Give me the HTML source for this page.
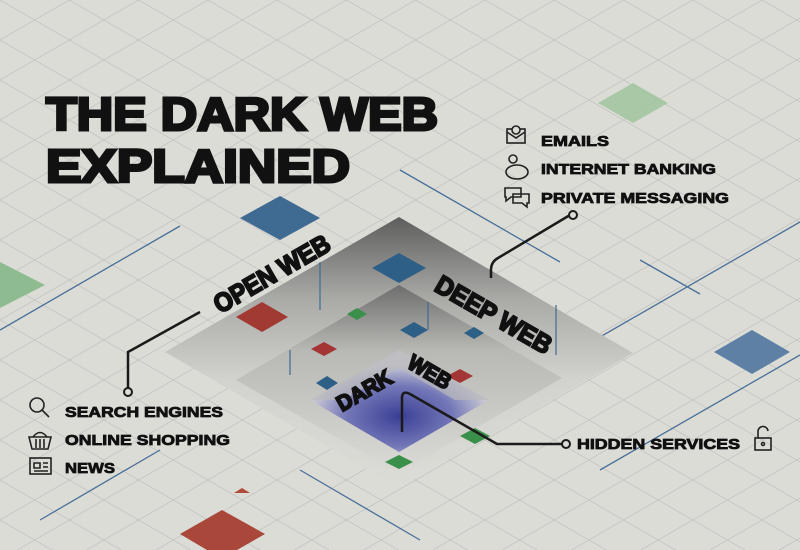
<!DOCTYPE html>
<html><head><meta charset="utf-8"><style>
html,body{margin:0;padding:0;background:#dcdcd7;width:800px;height:550px;overflow:hidden;}
svg{display:block;overflow:hidden;}
</style></head><body>
<svg width="800" height="550" viewBox="0 0 800 550" xmlns="http://www.w3.org/2000/svg" font-family="Liberation Sans, sans-serif">
<defs>
<pattern id="grid" width="69.282" height="40" patternUnits="userSpaceOnUse" x="0" y="0">
<path d="M-1 -0.577 L70.282 40.577 M-1 40.577 L70.282 -0.577" stroke="#bdbebd" stroke-width="0.7" fill="none"/>
</pattern>
<linearGradient id="lv1" x1="0" y1="0" x2="0" y2="1">
<stop offset="0" stop-color="#5e5e5e"/><stop offset="0.3" stop-color="#a9a9a6"/><stop offset="0.6" stop-color="#d2d2ce"/><stop offset="1" stop-color="#dcdcd7"/></linearGradient>
<linearGradient id="lv2" x1="0" y1="0" x2="0" y2="1">
<stop offset="0" stop-color="#6e6e6e"/><stop offset="0.35" stop-color="#b8b8b4"/><stop offset="1" stop-color="#dadad6"/></linearGradient>
<radialGradient id="dk" cx="0.5" cy="0.65" r="0.5">
<stop offset="0" stop-color="#3b3f95"/><stop offset="0.6" stop-color="#7478b8"/><stop offset="1" stop-color="#c8c8d4"/></radialGradient>
</defs>
<rect width="800" height="550" fill="#dcdcd7"/>
<rect width="800" height="550" fill="url(#grid)"/>
<g stroke="#4a6f98" stroke-width="1.3" fill="none">
<path d="M0 330 L180 226"/><path d="M400 170 L560 262"/><path d="M560 360 L800 222"/><path d="M600 470 L800 355"/><path d="M40 520 L160 450"/><path d="M300 470 L420 540"/><path d="M640 260 L700 294"/>
</g>
<polygon points="633,83 668,103 633,123 598,103" fill="#9cc39a" opacity="0.8"/>
<polygon points="280,196 320,218 280,240 240,218" fill="#3f6a91"/>
<polygon points="0,262 45,285 0,308" fill="#8fbb90"/>
<polygon points="752,330 790,352 752,374 714,352" fill="#5d80a4"/>
<polygon points="222,510 265,534 237,550 207,550 180,534" fill="#a8473a"/>
<polygon points="242,488 250,493 234,493" fill="#b04a3a"/>
<polygon points="165,352 399,217 633,353 399,488" fill="url(#lv1)"/>
<polygon points="236,380 399,285 562,378 399,473" fill="url(#lv2)"/>
<polygon points="310,400 399,350 489,400 399,452" fill="url(#dk)"/>
<polygon points="399,350 489,400 455,400 399,368 343,400 310,400" fill="#b9b9bc" opacity="0.7"/>
<polygon points="399,253 426,268 399,283 372,268" fill="#2e5f86"/>
<polygon points="262,302 288,317 262,332 236,317" fill="#a23a34"/>
<polygon points="357,308 367,314 357,320 347,314" fill="#3a8f4a"/>
<polygon points="324,342 337,349 324,356 311,349" fill="#a33535"/>
<polygon points="414,322 428,330 414,338 400,330" fill="#2e5f86"/>
<polygon points="474,327 484,333 474,339 464,333" fill="#2e5f86"/>
<polygon points="327,376 338,383 327,390 316,383" fill="#2e5f86"/>
<polygon points="460,369 473,376 460,383 447,376" fill="#a33535"/>
<polygon points="475,428 490,436 475,444 460,436" fill="#3a8f4a"/>
<polygon points="399,455 413,462 399,469 385,462" fill="#3a8f4a"/>
<g stroke="#3f6a91" stroke-width="1.2">
<path d="M320 262 V310"/><path d="M428 302 V330"/><path d="M556 305 V355"/><path d="M290 350 V375"/>
</g>
<g font-weight="900" fill="#111" stroke="#111" stroke-width="2" font-size="26">
<text transform="translate(220,314) rotate(-30)" textLength="130" lengthAdjust="spacingAndGlyphs">OPEN WEB</text>
<text transform="translate(433,290) rotate(30)" textLength="130" lengthAdjust="spacingAndGlyphs">DEEP WEB</text>
<text font-size="22" transform="translate(342,412) rotate(-30)" textLength="60" lengthAdjust="spacingAndGlyphs">DARK</text>
<text font-size="22" transform="translate(406,367) rotate(30)" textLength="46" lengthAdjust="spacingAndGlyphs">WEB</text>
</g>
<g stroke="#1a1a1a" stroke-width="2.5" fill="none">
<path d="M128 388 V352 L200 312"/>
<path d="M570 215 L498 258 Q491 262 491 270 V278"/>
<path d="M565 444 H497 L410 394 Q402 390 402 398 V432"/>
</g>
<g fill="#dcdcd7" stroke="#1a1a1a" stroke-width="2">
<circle cx="128" cy="392" r="4"/><circle cx="573" cy="215" r="4"/><circle cx="566" cy="444" r="4"/>
</g>
<g font-weight="900" fill="#111" stroke="#111" stroke-width="3" font-size="46">
<text x="46" y="130" textLength="392" lengthAdjust="spacingAndGlyphs">THE DARK WEB</text>
<text x="46" y="182" textLength="304" lengthAdjust="spacingAndGlyphs">EXPLAINED</text>
</g>
<g font-weight="bold" fill="#111" stroke="#111" stroke-width="0.8" font-size="15">
<text x="541" y="146" textLength="68" lengthAdjust="spacingAndGlyphs">EMAILS</text>
<text x="541" y="174" textLength="175" lengthAdjust="spacingAndGlyphs">INTERNET BANKING</text>
<text x="541" y="203" textLength="188" lengthAdjust="spacingAndGlyphs">PRIVATE MESSAGING</text>
<text x="65" y="417" textLength="158" lengthAdjust="spacingAndGlyphs">SEARCH ENGINES</text>
<text x="65" y="445" textLength="165" lengthAdjust="spacingAndGlyphs">ONLINE SHOPPING</text>
<text x="65" y="473" textLength="50" lengthAdjust="spacingAndGlyphs">NEWS</text>
<text x="577" y="449" textLength="163" lengthAdjust="spacingAndGlyphs">HIDDEN SERVICES</text>
</g>
<g fill="none" stroke="#222" stroke-width="1.6">
<rect x="507" y="129" width="18" height="14"/><path d="M507 132 L516 138 L525 132"/><circle cx="516" cy="130" r="4" fill="#dcdcd7"/>
<ellipse cx="517" cy="172" rx="11" ry="7"/><circle cx="513" cy="159" r="4"/>
<path d="M505 188 h16 v9 h-10 l-5 4 v-4 h-1 z"/><path d="M513 194 h16 v9 h-2 v4 l-5 -4 h-9 z"/>
<circle cx="37" cy="405" r="7"/><path d="M42 410 L49 417"/>
<path d="M29 437 h22 l-3 12 h-16 z"/><path d="M33 437 q7 -9 14 0"/><path d="M36 439 v9 M40 439 v9 M44 439 v9"/>
<rect x="30" y="458" width="21" height="16"/><path d="M34 463 h6 v5 h-6z M43 463 h5 M43 467 h5 M34 471 h14"/>
<rect x="755" y="438" width="16" height="12"/><path d="M758 438 v-6 a5 5 0 0 1 10 -1"/><circle cx="763" cy="444" r="1.5"/>
</g>
</svg>
</body></html>
